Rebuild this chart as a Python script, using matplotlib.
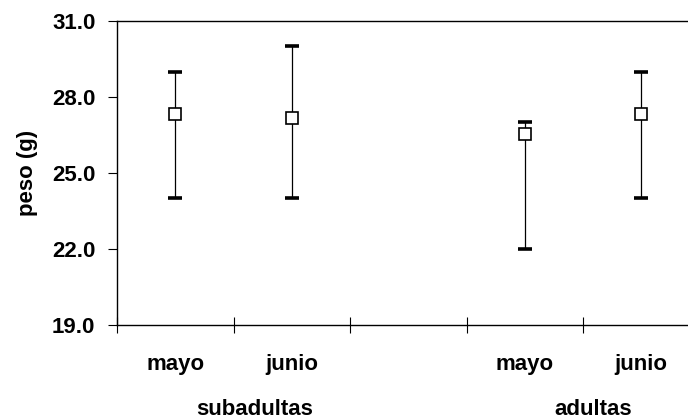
import matplotlib
matplotlib.use("Agg")
import matplotlib.pyplot as plt
import numpy as np

plt.rcParams['font.family'] = ['Liberation Sans', 'DejaVu Sans']
plt.rcParams['font.weight'] = 'bold'

# Data
months = ["mayo", "junio", "mayo", "junio"]
groups = ["subadultas", "adultas"]
means = [27.33, 27.17, 26.54, 27.33]
mins = [24.0, 24.0, 22.0, 24.0]
maxs = [29.0, 30.0, 27.0, 29.0]
yticks = [19.0, 22.0, 25.0, 28.0, 31.0]

# category slots (third slot is the empty gap between groups)
slots = [0.5, 1.5, 3.5, 4.5]

fig = plt.figure(figsize=(6.88, 4.19), dpi=100)
ax = fig.add_axes([117/688, 1 - 325/419, 582.5/688, 304/419])

m = np.array(means)
lo = m - np.array(mins)
hi = np.array(maxs) - m
eb = ax.errorbar(slots, means, yerr=[lo, hi], fmt='none', ecolor='black',
                 elinewidth=0.9, capsize=5.0, capthick=2.6, zorder=2)
for cap in eb[1]:
    cap.set_markeredgewidth(2.6)
ax.plot(slots, means, 's', markersize=8, markerfacecolor='white',
        markeredgecolor='black', markeredgewidth=1.2, zorder=3)

ax.set_xlim(0, 5)
ax.set_ylim(19, 31)
ax.set_yticks(yticks)
ax.set_yticklabels([f"{v:.1f}" for v in yticks])
ax.set_xticks(range(0, 6))
ax.set_xticklabels([])

for s in ['top', 'bottom', 'left', 'right']:
    ax.spines[s].set_linewidth(1.0)
ax.spines['right'].set_visible(False)

ax.tick_params(axis='y', direction='out', length=6.5, width=0.8, pad=9,
               labelsize=16)
ax.tick_params(axis='x', direction='inout', length=11, width=0.8)
for lab in ax.get_yticklabels():
    lab.set_fontweight('bold')

ax.set_ylabel("peso (g)", fontsize=16, fontweight='bold', labelpad=10)

for x, lab in zip(slots, months):
    ax.text(x, -0.148, lab, transform=ax.get_xaxis_transform(),
            ha='center', va='baseline', fontsize=16, fontweight='bold')

group_x = [1.185, 4.09]
for x, lab in zip(group_x, groups):
    ax.text(x, -0.296, lab, transform=ax.get_xaxis_transform(),
            ha='center', va='baseline', fontsize=16, fontweight='bold')

fig.savefig("out.png", dpi=100)
